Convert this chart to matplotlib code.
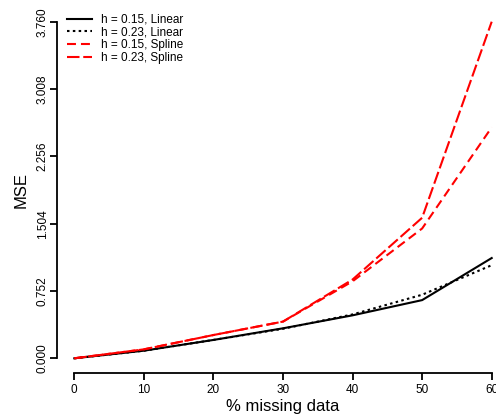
import matplotlib
matplotlib.use("Agg")
import matplotlib.pyplot as plt

plt.rcParams["font.family"] = ["Liberation Sans", "DejaVu Sans"]

missing = [0, 10, 20, 30, 40, 50, 60]
lin_015 = [0.0, 0.085, 0.205, 0.335, 0.48, 0.65, 1.12]
lin_023 = [0.0, 0.085, 0.205, 0.33, 0.49, 0.71, 1.04]
spl_015 = [0.0, 0.10, 0.26, 0.41, 0.86, 1.45, 2.58]
spl_023 = [0.0, 0.10, 0.26, 0.41, 0.88, 1.57, 3.76]

xticks = [0, 10, 20, 30, 40, 50, 60]
yticks = [0.0, 0.752, 1.504, 2.256, 3.008, 3.760]

fig = plt.figure(figsize=(4.96, 4.17), dpi=100)
ax = fig.add_axes([74.3 / 496, 58.7 / 417, 417.4 / 496, 336.6 / 417])

lw = 1.5
ax.plot(missing, lin_015, color="black", lw=lw, label="h = 0.15, Linear", clip_on=False)
ax.plot(missing, lin_023, color="black", lw=lw, dashes=(1.2, 1.6), label="h = 0.23, Linear", clip_on=False)
ax.plot(missing, spl_015, color="red", lw=lw, dashes=(4.3, 2.4), label="h = 0.15, Spline", clip_on=False)
ax.plot(missing, spl_023, color="red", lw=lw, dashes=(6.0, 1.8), label="h = 0.23, Spline", clip_on=False)

ax.set_xlim(0, 60)
ax.set_ylim(0, 3.76)

for side in ["top", "right"]:
    ax.spines[side].set_visible(False)
ax.spines["bottom"].set_position(("outward", 10.4))
ax.spines["left"].set_position(("outward", 12.5))
ax.spines["bottom"].set_bounds(0, 60)
ax.spines["left"].set_bounds(0, 3.76)
ax.spines["bottom"].set_linewidth(1.3)
ax.spines["left"].set_linewidth(1.3)

ax.set_xticks(xticks)
ax.set_xticklabels([str(t) for t in xticks])
ax.set_yticks(yticks)
ax.set_yticklabels([f"{t:.3f}" for t in yticks], rotation=90, va="center")
ax.tick_params(axis="both", length=5, width=1.3, labelsize=8.5)
ax.tick_params(axis="x", pad=3)
ax.tick_params(axis="y", pad=1)

ax.set_xlabel("% missing data", fontsize=12, labelpad=2)
ax.set_ylabel("MSE", fontsize=12, labelpad=6)

ax.legend(loc="upper left", bbox_to_anchor=(67 / 496, 1 - 14 / 417),
          bbox_transform=fig.transFigure, frameon=False, fontsize=8.5,
          handlelength=2.1, handletextpad=0.8, labelspacing=0.05,
          borderpad=0, borderaxespad=0)

fig.savefig("out.png", dpi=100)
